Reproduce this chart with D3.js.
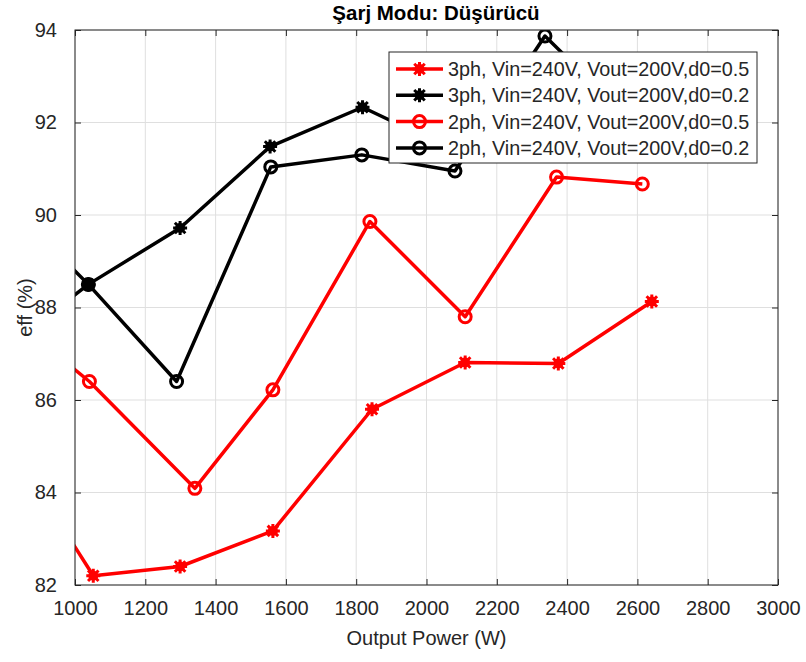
<!DOCTYPE html>
<html>
<head>
<meta charset="utf-8">
<script src="https://cdn.jsdelivr.net/npm/d3@7"></script>
<style>
  html, body { margin: 0; padding: 0; background: #fff; }
  svg { display: block; font-family: "Liberation Sans", Arial, Helvetica, sans-serif; }
</style>
</head>
<body>
<svg id="chart" width="806" height="662"></svg>
<script>
// ---- data ----
const chartTitle = "Şarj Modu: Düşürücü";
const xLabel = "Output Power (W)";
const yLabel = "eff (%)";
const xTickValues = [1000, 1200, 1400, 1600, 1800, 2000, 2200, 2400, 2600, 2800, 3000];
const yTickValues = [82, 84, 86, 88, 90, 92, 94];

const seriesNames = [
  "3ph, Vin=240V, Vout=200V,d0=0.5",
  "3ph, Vin=240V, Vout=200V,d0=0.2",
  "2ph, Vin=240V, Vout=200V,d0=0.5",
  "2ph, Vin=240V, Vout=200V,d0=0.2"
];
const seriesColors = ["#ff0000", "#000000", "#ff0000", "#000000"];
const seriesMarkers = ["asterisk", "asterisk", "circle", "circle"];

const power3ph05 = [785, 1052, 1299, 1563, 1845, 2110, 2375, 2641];
const eff3ph05   = [85.40, 82.20, 82.40, 83.17, 85.80, 86.81, 86.79, 88.13];

const power3ph02 = [785, 1038, 1299, 1555, 1818, 2090];
const eff3ph02   = [87.00, 88.50, 89.72, 91.48, 92.33, 91.35];

const power2ph05 = [785, 1041, 1341, 1563, 1839, 2110, 2370, 2614];
const eff2ph05   = [87.99, 86.40, 84.09, 86.22, 89.86, 87.80, 90.82, 90.67];

const power2ph02 = [785, 1038, 1289, 1557, 1816, 2081, 2337, 2600];
const eff2ph02   = [90.42, 88.50, 86.40, 91.04, 91.30, 90.95, 93.87, 91.90];

const seriesX = [power3ph05, power3ph02, power2ph05, power2ph02];
const seriesY = [eff3ph05, eff3ph02, eff2ph05, eff2ph02];

// ---- layout ----
const W = 806, H = 662;
const margin = { left: 75, right: 28, top: 30, bottom: 77 };
const iw = W - margin.left - margin.right;
const ih = H - margin.top - margin.bottom;
const textColor = "#262626";

const svg = d3.select("#chart");
const x = d3.scaleLinear().domain([1000, 3000]).range([0, iw]);
const y = d3.scaleLinear().domain([82, 94]).range([ih, 0]);

const g = svg.append("g").attr("transform", `translate(${margin.left},${margin.top})`);

svg.append("defs").append("clipPath").attr("id", "plotclip")
  .append("rect").attr("x", 0).attr("y", 0).attr("width", iw).attr("height", ih);

g.append("rect").attr("width", iw).attr("height", ih).attr("fill", "#fff");

// grid
g.append("g").selectAll("line").data(xTickValues).join("line")
  .attr("x1", d => x(d)).attr("x2", d => x(d)).attr("y1", 0).attr("y2", ih)
  .attr("stroke", "#dfdfdf").attr("stroke-width", 1);
g.append("g").selectAll("line").data(yTickValues).join("line")
  .attr("x1", 0).attr("x2", iw).attr("y1", d => y(d)).attr("y2", d => y(d))
  .attr("stroke", "#dfdfdf").attr("stroke-width", 1);

// axes
const fontSize = 20;
const xAxisB = g.append("g").attr("transform", `translate(0,${ih})`)
  .call(d3.axisBottom(x).tickValues(xTickValues).tickFormat(d3.format("d")).tickSizeInner(-6).tickSizeOuter(0).tickPadding(16));
const xAxisT = g.append("g")
  .call(d3.axisTop(x).tickValues(xTickValues).tickFormat("").tickSizeInner(-6).tickSizeOuter(0));
const yAxisL = g.append("g")
  .call(d3.axisLeft(y).tickValues(yTickValues).tickFormat(d3.format("d")).tickSizeInner(-6).tickSizeOuter(0).tickPadding(18));
const yAxisR = g.append("g").attr("transform", `translate(${iw},0)`)
  .call(d3.axisRight(y).tickValues(yTickValues).tickFormat("").tickSizeInner(-6).tickSizeOuter(0));

[xAxisB, xAxisT, yAxisL, yAxisR].forEach(a => {
  a.select(".domain").remove();
  a.selectAll("line").attr("stroke", textColor).attr("stroke-width", 1);
  a.selectAll("text").attr("fill", textColor).style("font-size", fontSize + "px")
    .style("font-family", '"Liberation Sans", Arial, sans-serif');
});

// lines
const plot = g.append("g").attr("clip-path", "url(#plotclip)");
const lineGen = d3.line().x(d => x(d[0])).y(d => y(d[1]));

function drawMarker(sel, type, color) {
  if (type === "circle") {
    sel.append("circle").attr("r", 6).attr("fill", "none")
      .attr("stroke", color).attr("stroke-width", 3);
  } else {
    const s = 7;
    sel.append("path")
      .attr("d", `M${-s},0L${s},0M0,${-s}L0,${s}M${-s*0.75},${-s*0.75}L${s*0.75},${s*0.75}M${-s*0.75},${s*0.75}L${s*0.75},${-s*0.75}`)
      .attr("stroke", color).attr("stroke-width", 3).attr("fill", "none");
    sel.append("circle").attr("r", 5).attr("fill", color);
  }
}

seriesX.forEach((xs, i) => {
  const pts = xs.map((v, j) => [v, seriesY[i][j]]);
  plot.append("path").datum(pts).attr("d", lineGen)
    .attr("fill", "none").attr("stroke", seriesColors[i]).attr("stroke-width", 3.5)
    .attr("stroke-linejoin", "round");
  pts.forEach(p => {
    const m = plot.append("g").attr("transform", `translate(${x(p[0])},${y(p[1])})`);
    drawMarker(m, seriesMarkers[i], seriesColors[i]);
  });
});

// box
g.append("rect").attr("width", iw).attr("height", ih).attr("fill", "none")
  .attr("stroke", textColor).attr("stroke-width", 1);

// title & labels
svg.append("text").attr("x", 436).attr("y", 20)
  .attr("text-anchor", "middle").attr("font-weight", "bold").attr("font-size", 20.5)
  .attr("fill", "#000").text(chartTitle);
svg.append("text").attr("x", margin.left + iw / 2).attr("y", 645)
  .attr("text-anchor", "middle").attr("font-size", fontSize).attr("fill", textColor).text(xLabel);
svg.append("text").attr("transform", `translate(32,${margin.top + ih / 2}) rotate(-90)`)
  .attr("text-anchor", "middle").attr("font-size", fontSize).attr("fill", textColor).text(yLabel);

// legend
const lg = svg.append("g").attr("transform", "translate(389,52)");
lg.append("rect").attr("width", 368).attr("height", 111).attr("fill", "#fff")
  .attr("stroke", textColor).attr("stroke-width", 1);
seriesNames.forEach((name, i) => {
  const cy = 17 + i * 26.3;
  const row = lg.append("g").attr("transform", `translate(0,${cy})`);
  row.append("line").attr("x1", 7).attr("x2", 54).attr("y1", 0).attr("y2", 0)
    .attr("stroke", seriesColors[i]).attr("stroke-width", 3.5);
  const m = row.append("g").attr("transform", "translate(30.5,0)");
  drawMarker(m, seriesMarkers[i], seriesColors[i]);
  row.append("text").attr("x", 59).attr("y", 0).attr("dy", "0.35em")
    .attr("font-size", 19.8).attr("fill", textColor).text(name);
});
</script>
</body>
</html>
